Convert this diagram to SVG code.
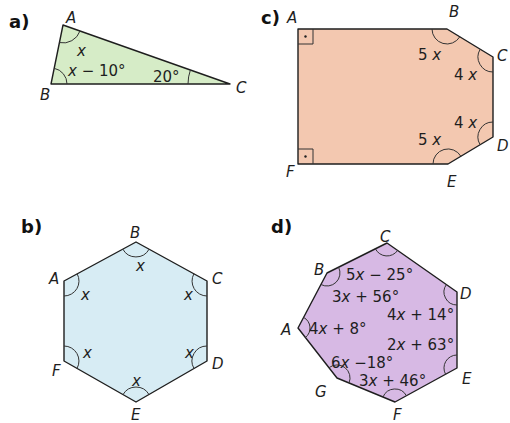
<svg xmlns="http://www.w3.org/2000/svg" width="510" height="423" viewBox="0 0 510 423">
<style>
.poly{stroke:#1e1e1e;stroke-width:1.4;stroke-linejoin:round}
.arc{fill:none;stroke:#333;stroke-width:1}
.lbl{font-family:"DejaVu Sans",sans-serif;font-size:15px;font-style:italic;fill:#1e1e1e}
.num{font-family:"DejaVu Sans",sans-serif;font-size:15px;fill:#1e1e1e}
.num .v{font-style:italic}
.tag{font-family:"DejaVu Sans",sans-serif;font-size:18px;font-weight:bold;fill:#111}
</style>
<rect width="510" height="423" fill="#ffffff"/>

<g id="fig-a">
<text class="tag" x="9" y="28">a)</text>
<polygon class="poly" points="63,25 51,84 230,84" fill="#d6ecc7"/>
<path class="arc" d="M59.4 42.6 A18 18 0 0 0 80 31"/>
<path class="arc" d="M54.2 68.3 A16 16 0 0 1 67 84"/>
<path class="arc" d="M188 84 A42 42 0 0 1 190.4 70"/>
<text class="lbl" x="66" y="23">A</text>
<text class="lbl" x="40" y="100">B</text>
<text class="lbl" x="236" y="93">C</text>
<text class="num" x="77" y="56"><tspan class="v">x</tspan></text>
<text class="num" x="68" y="76"><tspan class="v">x</tspan> − 10°</text>
<text class="num" x="153" y="82">20°</text>
</g>

<g id="fig-c">
<text class="tag" x="261" y="24">c)</text>
<polygon class="poly" points="298,29 447,29 493,57 493,137 448,164 298,164" fill="#f3c8b0"/>
<path class="arc" d="M313 29 V44 H298"/>
<circle cx="305.5" cy="36.5" r="1.2" fill="#222"/>
<path class="arc" d="M298 149 H313 V164"/>
<circle cx="305.5" cy="156.5" r="1.2" fill="#222"/>
<path class="arc" d="M432 29 A15 15 0 0 0 459.8 36.8"/>
<path class="arc" d="M480.2 49.2 A15 15 0 0 0 493 72"/>
<path class="arc" d="M493 122 A15 15 0 0 0 480.1 144.7"/>
<path class="arc" d="M460.9 156.3 A15 15 0 0 0 433 164"/>
<text class="lbl" x="287" y="23">A</text>
<text class="lbl" x="449" y="17">B</text>
<text class="lbl" x="497" y="61">C</text>
<text class="lbl" x="497" y="151">D</text>
<text class="lbl" x="447" y="187">E</text>
<text class="lbl" x="286" y="177">F</text>
<text class="num" x="418" y="60">5 <tspan class="v">x</tspan></text>
<text class="num" x="454" y="80">4 <tspan class="v">x</tspan></text>
<text class="num" x="454" y="128">4 <tspan class="v">x</tspan></text>
<text class="num" x="418" y="145">5 <tspan class="v">x</tspan></text>
</g>

<g id="fig-b">
<text class="tag" x="21" y="233">b)</text>
<polygon class="poly" points="136,242 207,281 207,361 136,402 64,361 64,281" fill="#d7ecf4"/>
<path class="arc" d="M122.8 249.1 A15 15 0 0 0 149.1 249.2"/>
<path class="arc" d="M193.9 273.8 A15 15 0 0 0 207 296"/>
<path class="arc" d="M207 346 A15 15 0 0 0 194 368.5"/>
<path class="arc" d="M149 394.5 A15 15 0 0 0 123 394.6"/>
<path class="arc" d="M77 368.4 A15 15 0 0 0 64 346"/>
<path class="arc" d="M64 296 A15 15 0 0 0 77.2 273.9"/>
<text class="lbl" x="130" y="238">B</text>
<text class="lbl" x="212" y="284">C</text>
<text class="lbl" x="212" y="369">D</text>
<text class="lbl" x="131" y="420">E</text>
<text class="lbl" x="52" y="376">F</text>
<text class="lbl" x="49" y="284">A</text>
<text class="lbl" x="136" y="271">x</text>
<text class="lbl" x="81" y="300">x</text>
<text class="lbl" x="184" y="300">x</text>
<text class="lbl" x="83" y="358">x</text>
<text class="lbl" x="185" y="358">x</text>
<text class="lbl" x="132" y="386">x</text>
</g>

<g id="fig-d">
<text class="tag" x="271" y="233">d)</text>
<polygon class="poly" points="387,243 457,292 457,368 395,402 337,378 298,328 327,273" fill="#d7b9e4"/>
<path class="arc" d="M375.4 248.8 A13 13 0 0 0 397.6 250.5"/>
<path class="arc" d="M446.4 284.5 A13 13 0 0 0 457 305"/>
<path class="arc" d="M457 355 A13 13 0 0 0 445.6 374.3"/>
<path class="arc" d="M406.4 395.7 A13 13 0 0 0 383 397"/>
<path class="arc" d="M349 383 A13 13 0 0 0 329 367.7"/>
<path class="arc" d="M305.4 337.5 A12 12 0 0 0 303.6 317.4"/>
<path class="arc" d="M320.9 284.5 A13 13 0 0 0 338.6 267.2"/>
<text class="lbl" x="380" y="242">C</text>
<text class="lbl" x="460" y="299">D</text>
<text class="lbl" x="462" y="384">E</text>
<text class="lbl" x="393" y="420">F</text>
<text class="lbl" x="315" y="397">G</text>
<text class="lbl" x="281" y="335">A</text>
<text class="lbl" x="314" y="275">B</text>
<text class="num" x="346" y="280">5<tspan class="v">x</tspan> − 25°</text>
<text class="num" x="332" y="302">3<tspan class="v">x</tspan> + 56°</text>
<text class="num" x="387" y="320">4<tspan class="v">x</tspan> + 14°</text>
<text class="num" x="309" y="334">4<tspan class="v">x</tspan> + 8°</text>
<text class="num" x="387" y="350">2<tspan class="v">x</tspan> + 63°</text>
<text class="num" x="331" y="368">6<tspan class="v">x</tspan> −18°</text>
<text class="num" x="359" y="386">3<tspan class="v">x</tspan> + 46°</text>
</g>
</svg>
